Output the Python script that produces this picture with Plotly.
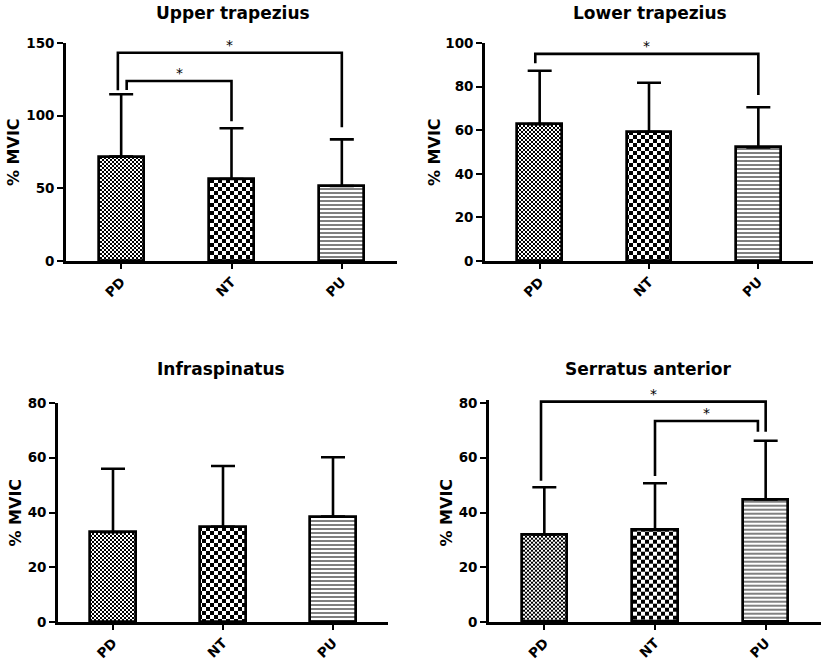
import plotly.graph_objects as go

# ---------------- data ----------------
categories = ["PD", "NT", "PU"]
panel_titles = ["Upper trapezius", "Lower trapezius", "Infraspinatus", "Serratus anterior"]
y_label = "% MVIC"

upper_trap_mean = [71.8, 56.4, 51.6]
upper_trap_sd = [42.9, 34.9, 32.1]
lower_trap_mean = [62.8, 59.3, 52.1]
lower_trap_sd = [24.5, 22.5, 18.4]
infraspinatus_mean = [32.8, 34.8, 38.5]
infraspinatus_sd = [23.2, 22.2, 21.7]
serratus_mean = [32.0, 33.6, 44.8]
serratus_sd = [17.2, 17.1, 21.4]

y_max = [150, 100, 80, 80]
y_dtick = [50, 20, 20, 20]

# significance brackets: (group i, group j, top, left-foot bottom, right-foot bottom)
upper_trap_sig = [(0, 1, 123.9, 117.7, 96.2), (0, 2, 143.3, 117.5, 92.0)]
lower_trap_sig = [(0, 2, 95.0, 90.7, 76.1)]
infraspinatus_sig = []
serratus_sig = [(0, 2, 80.5, 51.6, 69.5), (1, 2, 73.4, 53.3, 69.5)]
sig_label = "*"

# ---------------- layout helpers ----------------
W, H = 827, 661
def fx(p):
    return p / W
def fy(p):
    return 1 - p / H

# pixel boxes of plotting areas (x0, x1, y of top tick, y of zero)
boxes = [(66, 397, 43, 261), (485, 813, 43, 261), (58, 388, 403, 622), (489, 821, 403, 622)]
# small headroom above the top tick so brackets/stars that sit on it are not clipped
range_pad = [0, 0, 0, 1.2]
title_pos = [(233, 13), (650, 13), (221, 369), (648, 369)]
ytitle_x = [13, 434, 15, 446]
# small inward offsets of bracket feet (category units)
foot_offsets = [[(0.05, 0.0), (-0.03, 0.0)], [(-0.04, 0.0)], [], [(-0.03, 0.0), (0.0, -0.07)]]

means = [upper_trap_mean, lower_trap_mean, infraspinatus_mean, serratus_mean]
sds = [upper_trap_sd, lower_trap_sd, infraspinatus_sd, serratus_sd]
sigs = [upper_trap_sig, lower_trap_sig, infraspinatus_sig, serratus_sig]

FONT = "DejaVu Sans"
xs = list(range(len(categories)))

fig = go.Figure()
annotations = []
layout = {}

for k in range(4):
    xa = "x" if k == 0 else f"x{k+1}"
    ya = "y" if k == 0 else f"y{k+1}"
    xkey = "xaxis" if k == 0 else f"xaxis{k+1}"
    ykey = "yaxis" if k == 0 else f"yaxis{k+1}"
    x0, x1, yt, yb = boxes[k]
    ppu = (yb - yt) / y_max[k]
    rtop = y_max[k] + range_pad[k]
    ytop_px = yb - ppu * rtop

    fig.add_trace(go.Bar(
        x=xs, y=means[k], width=0.41,
        xaxis=xa, yaxis=ya, showlegend=False,
        marker=dict(
            color="white",
            line=dict(color="black", width=2.7),
            pattern=dict(shape=["|", ".", "-"], size=[5, 8, 4],
                         solidity=[0.5, 0.5, 0.25],
                         fgcolor="black", bgcolor="white", fillmode="replace"),
        ),
        error_y=dict(type="data", symmetric=False, array=sds[k],
                     arrayminus=[0] * len(xs), color="black",
                     thickness=2.6, width=12),
    ))

    for n, (i, j, top, lb, rb) in enumerate(sigs[k]):
        dl, dr = foot_offsets[k][n]
        fig.add_trace(go.Scatter(
            x=[i + dl, i + dl, j + dr, j + dr], y=[lb, top, top, rb],
            mode="lines", line=dict(color="black", width=2.6),
            xaxis=xa, yaxis=ya, showlegend=False, cliponaxis=False,
            hoverinfo="skip"))
        annotations.append(dict(
            x=(i + dl + j + dr) / 2, y=top, xref=xa, yref=ya,
            text=sig_label, showarrow=False, yanchor="middle", yshift=8,
            font=dict(family=FONT, size=14, color="black")))

    layout[xkey] = dict(
        domain=[fx(x0), fx(x1)], anchor=ya, range=[-0.5, 2.5], automargin=False,
        tickmode="array", tickvals=xs, ticktext=categories, tickangle=-45,
        showline=True, linecolor="black", linewidth=2.6,
        ticks="outside", ticklen=5, tickwidth=2, tickcolor="black",
        showgrid=False, zeroline=False, fixedrange=True,
        tickfont=dict(family=FONT, size=13.5, color="black", weight="bold"))
    layout[ykey] = dict(
        domain=[fy(yb), fy(ytop_px)], anchor=xa, range=[0, rtop], automargin=False,
        tickmode="array", tickvals=list(range(0, y_max[k] + 1, y_dtick[k])),
        showline=True, linecolor="black", linewidth=2.6,
        ticks="outside", ticklen=6, tickwidth=2, tickcolor="black",
        showgrid=False, zeroline=False, fixedrange=True,
        tickfont=dict(family=FONT, size=13.5, color="black", weight="bold"))

    tx, ty = title_pos[k]
    annotations.append(dict(
        x=fx(tx), y=fy(ty), xref="paper", yref="paper", text=panel_titles[k],
        showarrow=False, xanchor="center", yanchor="middle",
        font=dict(family=FONT, size=17, color="black", weight="bold")))
    annotations.append(dict(
        x=fx(ytitle_x[k]), y=fy((yt + yb) / 2), xref="paper", yref="paper",
        text=y_label, textangle=-90, showarrow=False,
        xanchor="center", yanchor="middle",
        font=dict(family=FONT, size=16, color="black", weight="bold")))

fig.update_layout(
    template="none",
    width=W, height=H, margin=dict(l=0, r=0, t=0, b=0, pad=0, autoexpand=False),
    paper_bgcolor="white", plot_bgcolor="white",
    annotations=annotations, bargap=0, **layout)

post = """
var gd = document.getElementById('{plot_id}');
var ns = 'http://www.w3.org/2000/svg';
function ck(p, c) {
  while (p.firstChild) p.removeChild(p.firstChild);
  p.setAttribute('width', (2*c) + 'px');
  p.setAttribute('height', (2*c) + 'px');
  var r = document.createElementNS(ns, 'rect');
  r.setAttribute('width', 2*c); r.setAttribute('height', 2*c); r.setAttribute('fill', '#fff');
  p.appendChild(r);
  [[0,0],[c,c]].forEach(function(o){
    var q = document.createElementNS(ns, 'rect');
    q.setAttribute('x', o[0]); q.setAttribute('y', o[1]);
    q.setAttribute('width', c); q.setAttribute('height', c); q.setAttribute('fill', '#000');
    p.appendChild(q);
  });
}
gd.querySelectorAll('pattern').forEach(function(p){
  if (p.querySelector('circle')) { ck(p, 4); }
  else if (parseFloat(p.getAttribute('width')) === 5) { ck(p, 2); }
});
"""

fig.write_html("out.html", post_script=post)
